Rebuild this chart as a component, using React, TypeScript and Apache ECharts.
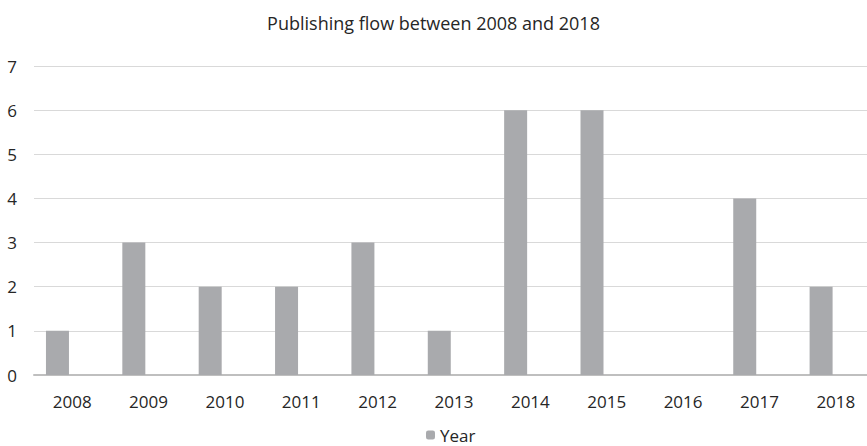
import React, { useEffect, useRef } from "react";
import * as echarts from "echarts";

const categories = ["2008", "2009", "2010", "2011", "2012", "2013", "2014", "2015", "2016", "2017", "2018"];
const yearValues = [1, 3, 2, 2, 3, 1, 6, 6, 0, 4, 2];
const emptyValues = [null, null, null, null, null, null, null, null, null, null, null];
const titleText = "Publishing flow between 2008 and 2018";

export default function App() {
  const ref = useRef<HTMLDivElement>(null);
  useEffect(() => {
    if (!ref.current) return;
    const chart = echarts.init(ref.current, null, { renderer: "svg" });
    const font = "'Open Sans', 'Noto Sans', sans-serif";
    chart.setOption({
      animation: false,
      backgroundColor: "#ffffff",
      textStyle: { fontFamily: font },
      title: {
        text: titleText,
        left: "center",
        top: 9,
        textStyle: { fontFamily: font, fontSize: 18, fontWeight: "normal", color: "#262626" },
      },
      legend: {
        data: ["Year"],
        left: 426,
        bottom: 2,
        padding: 0,
        itemWidth: 9,
        itemHeight: 9,
        itemGap: 6,
        textStyle: { fontFamily: font, fontSize: 17, color: "#262626", lineHeight: 18 },
      },
      grid: { left: 34, width: 840, top: 66, bottom: 71, containLabel: false, outerBoundsMode: "none" },
      xAxis: {
        type: "category",
        data: categories,
        axisLine: { lineStyle: { color: "#bfbfbf", width: 2 } },
        axisTick: { show: false },
        axisLabel: { fontFamily: font, fontSize: 17, color: "#262626", margin: 18 },
      },
      yAxis: {
        type: "value",
        min: 0,
        max: 7,
        interval: 1,
        axisLine: { show: false },
        axisTick: { show: false },
        splitLine: { lineStyle: { color: "#d9d9d9", width: 1 } },
        axisLabel: { fontFamily: font, fontSize: 17, color: "#262626", margin: 17 },
      },
      series: [
        {
          name: "Year",
          type: "bar",
          data: yearValues,
          barWidth: 23,
          barGap: "28%",
          itemStyle: { color: "#a9aaad" },
        },
        {
          name: "empty",
          type: "bar",
          data: emptyValues,
          barWidth: 23,
          barGap: "28%",
          itemStyle: { color: "#d0d0d0" },
        },
      ],
    });
    return () => chart.dispose();
  }, []);
  return <div ref={ref} style={{ position: "fixed", left: 0, top: 0, width: 867, height: 446 }} />;
}
